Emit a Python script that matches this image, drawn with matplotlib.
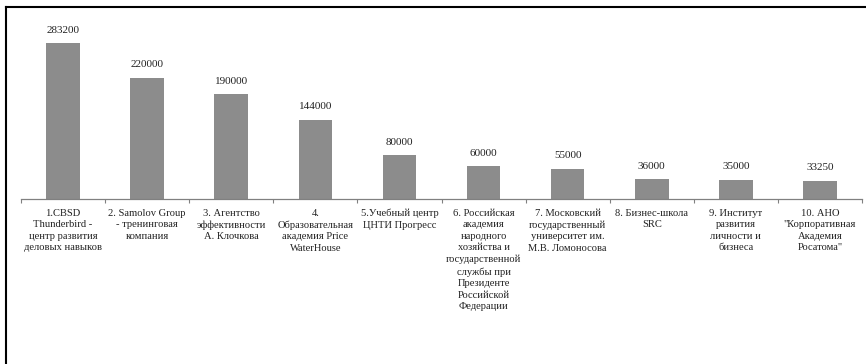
import matplotlib
matplotlib.use("Agg")
import matplotlib.pyplot as plt
from matplotlib.lines import Line2D

plt.rcParams['font.family'] = ['Liberation Serif', 'DejaVu Serif']

# данные
names = [
    "1.CBSD\nThunderbird -\nцентр развития\nделовых навыков",
    "2. Samolov Group\n- тренинговая\nкомпания",
    "3. Агентство\nэффективности\nА. Клочкова",
    "4.\nОбразовательная\nакадемия Price\nWaterHouse",
    "5.Учебный центр\nЦНТИ Прогресс",
    "6. Российская\nакадемия\nнародного\nхозяйства и\nгосударственной\nслужбы при\nПрезиденте\nРоссийской\nФедерации",
    "7. Московский\nгосударственный\nуниверситет им.\nМ.В. Ломоносова",
    "8. Бизнес-школа\nSRC",
    "9. Институт\nразвития\nличности и\nбизнеса",
    "10. АНО\n\"Корпоративная\nАкадемия\nРосатома\"",
]
values = [283200, 220000, 190000, 144000, 80000, 60000, 55000, 36000, 35000, 33250]

fig = plt.figure(figsize=(8.66, 3.64), dpi=100)
W, H = 866, 364
ax = fig.add_axes([21 / W, 1 - 199 / H, 841 / W, 179 / H])

xs = list(range(len(values)))
ax.bar(xs, values, width=0.4, color='#8c8c8c')
ax.set_xlim(-0.5, len(values) - 0.5)
ax.set_ylim(0, 325000)

for x, v in zip(xs, values):
    ax.annotate(str(v), (x, v), xytext=(0, 6), textcoords='offset points',
                ha='center', va='bottom', fontsize=8, color='#222222')

for s in ['top', 'right', 'left']:
    ax.spines[s].set_visible(False)
ax.spines['bottom'].set_color('#808080')
ax.spines['bottom'].set_linewidth(0.9)
ax.set_yticks([])

# деления между категориями
ax.set_xticks([x - 0.5 for x in xs] + [len(values) - 0.5], minor=True)
ax.tick_params(axis='x', which='minor', length=3, color='#808080', width=0.8)
ax.set_xticks(xs)
ax.set_xticklabels(names, fontsize=7.6, color='#222222', linespacing=1.36)
ax.tick_params(axis='x', which='major', length=0, pad=7)

# рамка
fig.add_artist(Line2D([6 / W, 6 / W], [0, 1 - 7 / H], transform=fig.transFigure,
                      color='black', lw=1.5))
fig.add_artist(Line2D([6 / W, 1], [1 - 7 / H, 1 - 7 / H], transform=fig.transFigure,
                      color='black', lw=1.5))

fig.savefig('out.png', dpi=100)
